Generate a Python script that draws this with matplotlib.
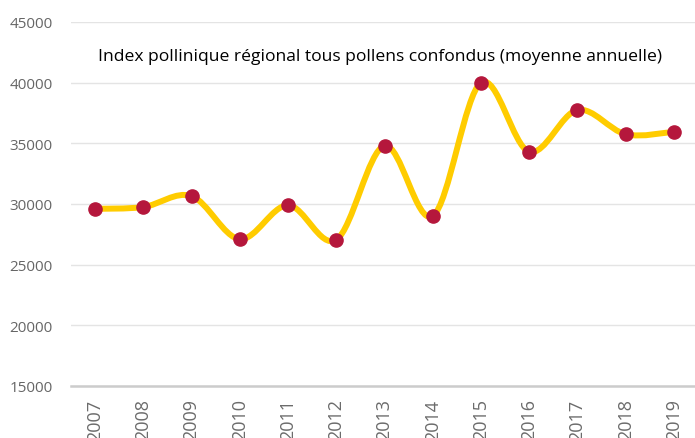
import matplotlib
matplotlib.use('Agg')
from matplotlib import pyplot as plt
from matplotlib.path import Path
from matplotlib.patches import PathPatch

# Data
years = ['2007', '2008', '2009', '2010', '2011', '2012', '2013',
         '2014', '2015', '2016', '2017', '2018', '2019']
index_values = [29600, 29750, 30650, 27100, 29900, 27050, 34800,
                29000, 40000, 34300, 37750, 35750, 35950]
y_ticks = [15000, 20000, 25000, 30000, 35000, 40000, 45000]

plt.rcParams['font.family'] = ['Open Sans', 'DejaVu Sans']

fig = plt.figure(figsize=(6.95, 4.39), dpi=100)
ax = fig.add_axes([71 / 695, 52 / 439, 627 / 695, 364 / 439])

xs = list(range(len(years)))

# Smoothed line (Excel style bezier, tangents from neighbours)
pts = list(zip(xs, index_values))
verts = [pts[0]]
codes = [Path.MOVETO]
n = len(pts)
for i in range(n - 1):
    p0 = pts[i - 1] if i > 0 else pts[i]
    p1 = pts[i]
    p2 = pts[i + 1]
    p3 = pts[i + 2] if i + 2 < n else pts[i + 1]
    c1 = (p1[0] + (p2[0] - p0[0]) / 6, p1[1] + (p2[1] - p0[1]) / 6)
    c2 = (p2[0] - (p3[0] - p1[0]) / 6, p2[1] - (p3[1] - p1[1]) / 6)
    verts += [c1, c2, p2]
    codes += [Path.CURVE4, Path.CURVE4, Path.CURVE4]
line = PathPatch(Path(verts, codes), facecolor='none', edgecolor='#FFCC00',
                 linewidth=4.3, capstyle='round', joinstyle='round', zorder=3)
ax.add_patch(line)

ax.plot(xs, index_values, linestyle='none', marker='o', markersize=9.5,
        color='#B5173C', markeredgecolor='#B5173C', zorder=4)

# Format plot
ax.set_xlim(-0.5, len(years) - 0.5)
ax.set_ylim(15000, 45000)
ax.set_yticks(y_ticks)
ax.set_yticklabels([str(t) for t in y_ticks])
ax.set_xticks(xs)
ax.set_xticklabels(years, rotation=90, va='top')
ax.tick_params(axis='y', length=0, labelsize=11, labelcolor='#666666', pad=13)
ax.tick_params(axis='x', length=0, labelsize=13, labelcolor='#6b6b6b', pad=9)
ax.grid(axis='y', color='#e4e4e4', linewidth=1)
ax.set_axisbelow(True)
for side in ['top', 'right', 'left']:
    ax.spines[side].set_visible(False)
ax.spines['bottom'].set_color('#cccccc')
ax.spines['bottom'].set_linewidth(1.8)

fig.text(380 / 695, 1 - 57 / 439,
         'Index pollinique régional tous pollens confondus (moyenne annuelle)',
         ha='center', va='center', fontsize=12.6, color='black')

fig.savefig('out.png', dpi=100)
